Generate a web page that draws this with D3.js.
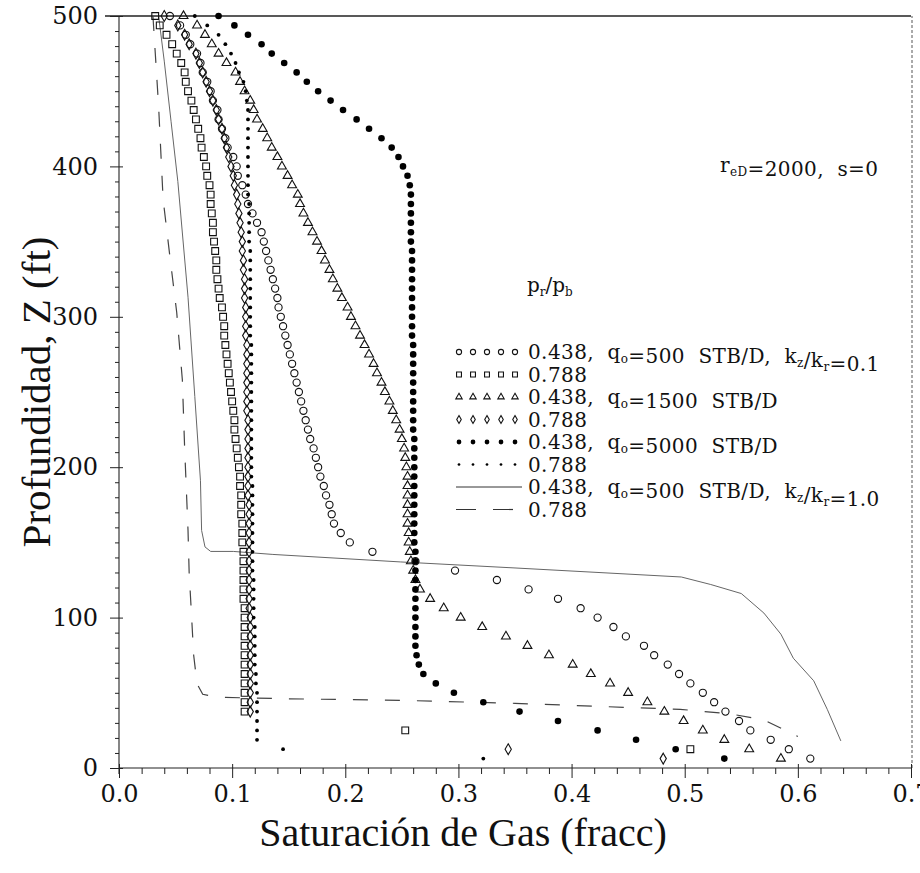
<!DOCTYPE html>
<html>
<head>
<meta charset="utf-8">
<script src="https://d3js.org/d3.v7.min.js"></script>
<style>
body, html { margin: 0; padding: 0; background: #fff; }
svg { display: block; }
.lbl { font-family: "DejaVu Serif", serif; fill: #111; }
.title { font-family: "Liberation Serif", "Times New Roman", serif; fill: #111; }
</style>
</head>
<body>
<div id="chart"></div>
<script>
// depth of each grid cell (ft), top to bottom
var depth = [500, 493.75, 487.5, 481.25, 475, 468.75, 462.5, 456.25, 450, 443.75,
  437.5, 431.25, 425, 418.75, 412.5, 406.25, 400, 393.75, 387.5, 381.25,
  375, 368.75, 362.5, 356.25, 350, 343.75, 337.5, 331.25, 325, 318.75,
  312.5, 306.25, 300, 293.75, 287.5, 281.25, 275, 268.75, 262.5, 256.25,
  250, 243.75, 237.5, 231.25, 225, 218.75, 212.5, 206.25, 200, 193.75,
  187.5, 181.25, 175, 168.75, 162.5, 156.25, 150, 143.75, 137.5, 131.25,
  125, 118.75, 112.5, 106.25, 100, 93.75, 87.5, 81.25, 75, 68.75,
  62.5, 56.25, 50, 43.75, 37.5, 31.25, 25, 18.75, 12.5, 6.25];

// gas saturation per cell, kz/kr = 0.1
var sg438q500 = [0.045, 0.054, 0.059, 0.063, 0.069, 0.072, 0.074, 0.078, 0.081, 0.083,
  0.087, 0.088, 0.091, 0.094, 0.096, 0.101, 0.104, 0.105, 0.109, 0.112,
  0.114, 0.118, 0.122, 0.126, 0.128, 0.130, 0.132, 0.134, 0.136, 0.138,
  0.140, 0.141, 0.143, 0.145, 0.147, 0.149, 0.151, 0.153, 0.155, 0.157,
  0.159, 0.161, 0.163, 0.165, 0.167, 0.169, 0.172, 0.174, 0.176, 0.178,
  0.181, 0.183, 0.186, 0.188, 0.190, 0.196, 0.204, 0.224, 0.262, 0.297,
  0.334, 0.362, 0.388, 0.408, 0.423, 0.437, 0.448, 0.464, 0.473, 0.485,
  0.495, 0.505, 0.516, 0.526, 0.536, 0.548, 0.558, 0.576, 0.592, 0.611];

var sg788q500 = [0.032, 0.036, 0.042, 0.047, 0.051, 0.055, 0.058, 0.059, 0.061, 0.064,
  0.066, 0.068, 0.070, 0.072, 0.073, 0.075, 0.077, 0.078, 0.080, 0.081,
  0.081, 0.082, 0.083, 0.083, 0.084, 0.085, 0.086, 0.086, 0.087, 0.088,
  0.089, 0.091, 0.092, 0.093, 0.093, 0.094, 0.095, 0.096, 0.097, 0.098,
  0.099, 0.100, 0.101, 0.102, 0.102, 0.103, 0.104, 0.105, 0.106, 0.107,
  0.107, 0.108, 0.108, 0.108, 0.109, 0.109, 0.109, 0.110, 0.110, 0.110,
  0.110, 0.110, 0.110, 0.111, 0.111, 0.111, 0.111, 0.111, 0.111, 0.111,
  0.111, 0.111, 0.111, 0.111, 0.111, null, 0.253, null, 0.505, null];

var sg438q1500 = [0.057, 0.069, 0.076, 0.082, 0.088, 0.095, 0.103, 0.107, 0.111, 0.116,
  0.119, 0.122, 0.127, 0.131, 0.135, 0.140, 0.144, 0.149, 0.153, 0.158,
  0.160, 0.163, 0.167, 0.171, 0.175, 0.179, 0.182, 0.186, 0.189, 0.193,
  0.197, 0.202, 0.205, 0.209, 0.213, 0.217, 0.221, 0.225, 0.228, 0.232,
  0.235, 0.239, 0.242, 0.245, 0.248, 0.250, 0.252, 0.253, 0.254, 0.255,
  0.255, 0.255, 0.255, 0.255, 0.255, 0.256, 0.256, 0.257, 0.258, 0.260,
  0.262, 0.266, 0.275, 0.287, 0.302, 0.321, 0.342, 0.361, 0.380, 0.401,
  0.417, 0.434, 0.450, 0.467, 0.482, 0.499, 0.516, 0.535, 0.557, 0.585];

var sg788q1500 = [0.040, 0.052, 0.058, 0.062, 0.068, 0.071, 0.074, 0.077, 0.080, 0.083,
  0.086, 0.088, 0.091, 0.093, 0.095, 0.097, 0.099, 0.101, 0.102, 0.104,
  0.105, 0.106, 0.107, 0.108, 0.109, 0.109, 0.110, 0.110, 0.111, 0.111,
  0.111, 0.112, 0.112, 0.112, 0.112, 0.113, 0.113, 0.113, 0.113, 0.113,
  0.113, 0.113, 0.113, 0.114, 0.114, 0.114, 0.114, 0.114, 0.114, 0.114,
  0.114, 0.114, 0.115, 0.115, 0.115, 0.115, 0.115, 0.115, 0.115, 0.115,
  0.115, 0.115, 0.115, 0.115, 0.116, 0.116, 0.116, 0.116, 0.116, 0.116,
  0.116, 0.116, 0.116, 0.116, 0.116, null, null, null, 0.344, 0.481];

var sg438q5000 = [0.088, 0.102, 0.114, 0.126, 0.135, 0.146, 0.157, 0.166, 0.176, 0.187,
  0.198, 0.210, 0.221, 0.232, 0.241, 0.247, 0.251, 0.255, 0.257, 0.258,
  0.258, 0.258, 0.258, 0.258, 0.258, 0.259, 0.259, 0.259, 0.259, 0.259,
  0.259, 0.259, 0.259, 0.259, 0.259, 0.260, 0.260, 0.260, 0.260, 0.260,
  0.260, 0.260, 0.260, 0.260, 0.260, 0.261, 0.261, 0.261, 0.261, 0.261,
  0.261, 0.261, 0.261, 0.261, 0.261, 0.261, 0.261, 0.262, 0.262, 0.262,
  0.262, 0.262, 0.262, 0.262, 0.262, 0.262, 0.262, 0.262, 0.263, 0.265,
  0.269, 0.280, 0.296, 0.322, 0.354, 0.388, 0.423, 0.457, 0.492, 0.535];

var sg788q5000 = [0.067, 0.078, 0.088, 0.094, 0.099, 0.103, 0.106, 0.110, 0.112, 0.113,
  0.114, 0.114, 0.114, 0.114, 0.114, 0.114, 0.114, 0.114, 0.114, 0.114,
  0.115, 0.115, 0.115, 0.115, 0.115, 0.116, 0.116, 0.116, 0.116, 0.116,
  0.116, 0.116, 0.116, 0.116, 0.116, 0.117, 0.117, 0.117, 0.117, 0.117,
  0.117, 0.117, 0.117, 0.117, 0.117, 0.117, 0.117, 0.117, 0.117, 0.117,
  0.118, 0.118, 0.118, 0.118, 0.118, 0.118, 0.118, 0.118, 0.118, 0.118,
  0.119, 0.119, 0.119, 0.119, 0.119, 0.120, 0.120, 0.120, 0.120, 0.120,
  0.121, 0.121, 0.122, 0.122, 0.122, 0.122, 0.122, 0.122, 0.145, 0.322];

// kz/kr = 1.0, qo = 500 (continuous curves: [saturation, depth])
var line438kz1 = [[0.035, 500], [0.040, 470], [0.046, 430], [0.052, 390], [0.061, 313],
  [0.067, 247], [0.072, 191], [0.073, 158], [0.076, 147], [0.081, 144], [0.101, 144],
  [0.136, 142], [0.249, 137], [0.350, 133], [0.497, 127], [0.523, 122], [0.550, 116],
  [0.570, 103], [0.585, 89], [0.596, 73], [0.614, 58], [0.626, 39], [0.638, 18]];

var line788kz1 = [[0.030, 500], [0.035, 440], [0.039, 378], [0.045, 340], [0.051, 303],
  [0.056, 258], [0.058, 213], [0.061, 158], [0.062, 130], [0.064, 103], [0.066, 75],
  [0.069, 56], [0.074, 49], [0.088, 47], [0.150, 46], [0.249, 45], [0.350, 43],
  [0.496, 39], [0.540, 36], [0.570, 32], [0.600, 21]];

var xTicks = [0, 0.1, 0.2, 0.3, 0.4, 0.5, 0.6, 0.7];
var xMinor = [0.02, 0.04, 0.06, 0.08, 0.12, 0.14, 0.16, 0.18, 0.22, 0.24, 0.26, 0.28,
  0.32, 0.34, 0.36, 0.38, 0.42, 0.44, 0.46, 0.48, 0.52, 0.54, 0.56, 0.58, 0.62, 0.64, 0.66, 0.68];
var yTicks = [0, 100, 200, 300, 400, 500];
var yMinor = [10, 20, 30, 40, 50, 60, 70, 80, 90, 110, 120, 130, 140, 150, 160, 170, 180, 190,
  210, 220, 230, 240, 250, 260, 270, 280, 290, 310, 320, 330, 340, 350, 360, 370, 380, 390,
  410, 420, 430, 440, 450, 460, 470, 480, 490];

var legendText = ["0.438,  q{o}=500  STB/D,  k{z}/k{r}=0.1", "0.788",
  "0.438,  q{o}=1500  STB/D", "0.788",
  "0.438,  q{o}=5000  STB/D", "0.788",
  "0.438,  q{o}=500  STB/D,  k{z}/k{r}=1.0", "0.788"];

var W = 920, H = 873;
var svg = d3.select('#chart').append('svg').attr('width', W).attr('height', H);

var x = d3.scaleLinear().domain([0, 0.7]).range([119, 911]);
var y = d3.scaleLinear().domain([0, 500]).range([768, 16]);

// frame
var frame = svg.append('g').attr('stroke', '#222').attr('fill', 'none');
frame.append('line').attr('x1', x(0)).attr('x2', x(0.7)).attr('y1', y(0)).attr('y2', y(0)).attr('stroke-width', 1.1);
frame.append('line').attr('x1', x(0) - 14).attr('x2', x(0.7)).attr('y1', y(500)).attr('y2', y(500)).attr('stroke-width', 1.3);
frame.append('line').attr('x1', x(0)).attr('x2', x(0)).attr('y1', y(0) + 6).attr('y2', y(500)).attr('stroke-width', 1.1);
frame.append('line').attr('x1', x(0.7) + 1).attr('x2', x(0.7) + 1).attr('y1', y(0)).attr('y2', y(500))
  .attr('stroke-width', 1).attr('stroke', '#555').attr('stroke-dasharray', '3,2');

// axes
function styleAxis(g) {
  g.select('.domain').remove();
  g.selectAll('.tick line').attr('stroke', '#222').attr('stroke-width', 1);
  g.selectAll('.tick text').attr('class', 'lbl').attr('font-size', 24).attr('fill', '#111');
}
svg.append('g').attr('transform', 'translate(0,' + y(0) + ')')
  .call(d3.axisBottom(x).tickValues(xTicks).tickSize(10).tickPadding(7).tickFormat(d3.format('.1f')))
  .call(styleAxis);
svg.append('g').attr('transform', 'translate(0,' + y(0) + ')')
  .call(d3.axisBottom(x).tickValues(xMinor).tickSize(6).tickFormat(''))
  .call(styleAxis);
svg.append('g').attr('transform', 'translate(0,' + y(0) + ')')
  .call(d3.axisTop(x).tickValues(xTicks).tickSize(4).tickFormat(''))
  .call(styleAxis);
svg.append('g').attr('transform', 'translate(' + x(0) + ',0)')
  .call(d3.axisLeft(y).tickValues(yTicks).tickSize(9).tickPadding(12).tickFormat(d3.format('d')))
  .call(styleAxis);
svg.append('g').attr('transform', 'translate(' + x(0) + ',0)')
  .call(d3.axisRight(y).tickValues(yTicks).tickSize(4).tickFormat(''))
  .call(styleAxis);
svg.append('g').attr('transform', 'translate(' + x(0) + ',0)')
  .call(d3.axisLeft(y).tickValues(yMinor).tickSize(4).tickFormat(''))
  .call(styleAxis);

// axis titles
svg.append('text').attr('class', 'title').attr('x', 463).attr('y', 846)
  .attr('text-anchor', 'middle').attr('font-size', 40).text('Saturación de Gas (fracc)');
svg.append('text').attr('class', 'title').attr('transform', 'translate(50,392) rotate(-90)')
  .attr('text-anchor', 'middle').attr('font-size', 41).text('Profundidad, Z (ft)');

// marker shapes
var markers = {
  circle: function (g, px, py, s) {
    g.append('circle').attr('cx', px).attr('cy', py).attr('r', 3.6 * s)
      .attr('fill', 'none').attr('stroke', '#111').attr('stroke-width', 1.1);
  },
  square: function (g, px, py, s) {
    g.append('path').attr('transform', 'translate(' + px + ',' + py + ')')
      .attr('d', d3.symbol().type(d3.symbolSquare).size(46 * s * s)())
      .attr('fill', 'none').attr('stroke', '#111').attr('stroke-width', 1.1);
  },
  triangle: function (g, px, py, s) {
    g.append('path').attr('transform', 'translate(' + px + ',' + py + ')')
      .attr('d', d3.symbol().type(d3.symbolTriangle).size(34 * s * s)())
      .attr('fill', 'none').attr('stroke', '#111').attr('stroke-width', 1.1);
  },
  diamond: function (g, px, py, s) {
    g.append('path').attr('transform', 'translate(' + px + ',' + py + ')')
      .attr('d', d3.symbol().type(d3.symbolDiamond).size(34 * s * s)())
      .attr('fill', 'none').attr('stroke', '#111').attr('stroke-width', 1.1);
  },
  dot: function (g, px, py, s) {
    g.append('circle').attr('cx', px).attr('cy', py).attr('r', 3.3 * s).attr('fill', '#000');
  },
  small: function (g, px, py, s) {
    g.append('circle').attr('cx', px).attr('cy', py).attr('r', 1.9 * s).attr('fill', '#000');
  }
};

var series = [
  { vals: sg438q500, mark: 'circle' },
  { vals: sg788q500, mark: 'square' },
  { vals: sg438q1500, mark: 'triangle' },
  { vals: sg788q1500, mark: 'diamond' },
  { vals: sg438q5000, mark: 'dot' },
  { vals: sg788q5000, mark: 'small' }
];

// lines
var line = d3.line().x(function (d) { return x(d[0]); }).y(function (d) { return y(d[1]); });
svg.append('path').datum(line438kz1).attr('d', line)
  .attr('fill', 'none').attr('stroke', '#666').attr('stroke-width', 1);
svg.append('path').datum(line788kz1).attr('d', line)
  .attr('fill', 'none').attr('stroke', '#444').attr('stroke-width', 1.2).attr('stroke-dasharray', '15,17');

var plot = svg.append('g');
series.forEach(function (s) {
  var g = plot.append('g');
  depth.forEach(function (z, i) {
    if (s.vals[i] == null) return;
    markers[s.mark](g, x(s.vals[i]), y(z), 1);
  });
});

// legend
var leg = svg.append('g');
leg.append('text').attr('class', 'lbl').attr('x', 527).attr('y', 292).attr('font-size', 20)
  .call(function (t) {
    t.append('tspan').text('p');
    t.append('tspan').attr('font-size', 12).attr('dy', 4).text('r');
    t.append('tspan').attr('dy', -4).text('/p');
    t.append('tspan').attr('font-size', 12).attr('dy', 4).text('b');
  });

function richText(t, str) {
  str.split(/(\{[^}]*\})/).forEach(function (part) {
    if (!part) return;
    if (part[0] === '{') {
      t.append('tspan').attr('font-size', 12).attr('dy', 4).text(part.slice(1, -1));
      t.append('tspan').attr('dy', -4).text('');
    } else {
      t.append('tspan').text(part);
    }
  });
}

var legMarks = ['circle', 'square', 'triangle', 'diamond', 'dot', 'small'];
legendText.forEach(function (txt, i) {
  var ly = 352 + i * 22.5;
  if (i < 6) {
    for (var j = 0; j < 5; j++) markers[legMarks[i]](leg, 459 + j * 14, ly, 0.72);
  } else if (i === 6) {
    leg.append('line').attr('x1', 456).attr('x2', 522).attr('y1', ly).attr('y2', ly)
      .attr('stroke', '#333').attr('stroke-width', 1);
  } else {
    leg.append('line').attr('x1', 456).attr('x2', 520).attr('y1', ly).attr('y2', ly)
      .attr('stroke', '#333').attr('stroke-width', 1.2).attr('stroke-dasharray', '20,17');
  }
  leg.append('text').attr('class', 'lbl').attr('x', 528).attr('y', ly + 7).attr('font-size', 20)
    .attr('letter-spacing', 0.4).style('white-space', 'pre')
    .call(function (t) { richText(t, txt); });
});

// annotation
svg.append('text').attr('class', 'lbl').attr('x', 720).attr('y', 172).attr('font-size', 20)
  .attr('letter-spacing', 0.4).style('white-space', 'pre')
  .call(function (t) { richText(t, 'r{eD}=2000,  s=0'); });
</script>
</body>
</html>
